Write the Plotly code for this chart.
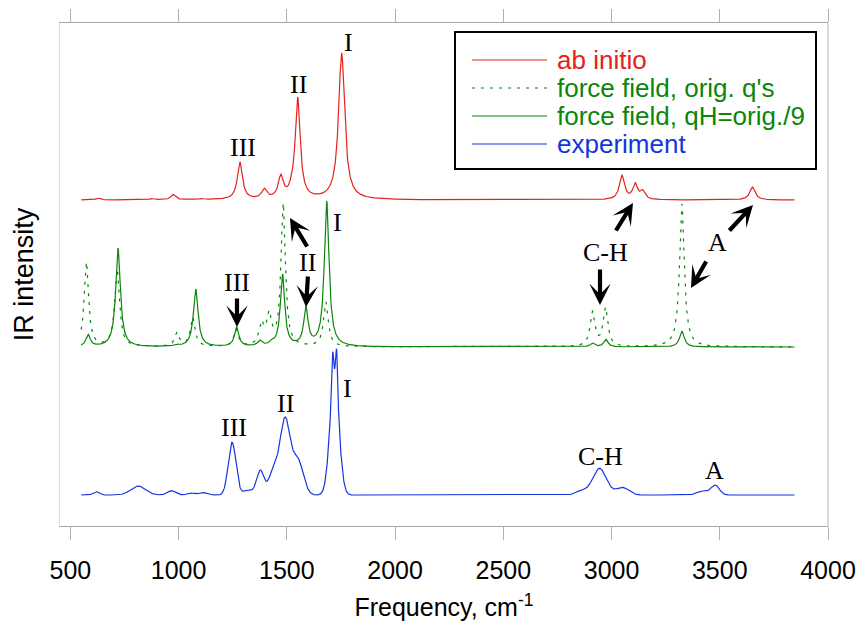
import numpy as np
import plotly.graph_objects as go

# ---------------- data ----------------
# peak lists: frequency (cm-1), apparent peak height (plot units), FWHM (cm-1)
RED_FREQ = [628, 875, 974, 1052, 1106, 1283, 1395, 1472, 1522, 1550, 1753, 3048, 3109, 3143, 3651]
RED_HEIGHT = [2, 1.5, 5.5, 1.5, 1.5, 38, 12, 26, 26, 103, 147, 25, 17.5, 10.5, 13]
RED_WIDTH = [25, 25, 25, 25, 25, 28, 28, 28, 24, 28, 34, 28, 26, 26, 30]

GS_FREQ = [582, 720, 990, 1079, 1268, 1375, 1430, 1480, 1588, 1684, 2912, 2974, 3325]
GS_HEIGHT = [12.7, 99, 3, 58, 20, 7, 8, 73, 41, 146, 4, 7.7, 15.7]
GS_WIDTH = [24, 26, 24, 26, 24, 24, 24, 24, 24, 26, 24, 24, 26]

GD_FREQ = [574, 716, 992, 1065, 1265, 1383, 1418, 1483, 1680, 2912, 2972, 3325, 3395]
GD_HEIGHT = [85, 78, 15, 30, 18, 27, 37, 144, 45, 36, 40, 143, 5]
GD_WIDTH = [24, 26, 24, 26, 24, 26, 26, 24, 26, 26, 26, 26, 30]

BL_FREQ = [620, 813, 967, 1055, 1110, 1247, 1320, 1377, 1437, 1491, 1550, 1711, 1720, 1730,
           2860, 2944, 3050, 3420, 3479]
BL_HEIGHT = [3.3, 9, 4.3, 2, 2.5, 52.7, 5, 25, 28, 78, 38, 142, 126, 145,
             5, 26.7, 7.7, 4, 10]
BL_WIDTH = [35, 80, 45, 40, 40, 42, 50, 40, 50, 55, 60, 12, 50, 12,
            60, 75, 70, 60, 45]

# vertical offsets of the stacked spectra (plot units)
OFFSETS = {"red": 326, "green": 179, "blue": 31}
FREQ_MIN, FREQ_MAX = 550, 3845

X_TICKS = [500, 1000, 1500, 2000, 2500, 3000, 3500, 4000]
LEGEND_NAMES = ["ab initio", "force field, orig. q's", "force field, qH=orig./9", "experiment"]

# ---------------- line-shape broadening of the peak lists ----------------
x = np.arange(FREQ_MIN, FREQ_MAX + 1, 1.0)


def lorentz(xx, c, w):
    return 1.0 / (1.0 + ((xx - c) / (w / 2.0)) ** 2)


def gauss(xx, c, w):
    s = w / 2.3548
    return np.exp(-0.5 * ((xx - c) / s) ** 2)


def spectrum(freq, height, width, shape):
    freq = np.asarray(freq, float)
    height = np.asarray(height, float)
    width = np.asarray(width, float)
    M = np.array([[shape(fi, fj, wj) for fj, wj in zip(freq, width)] for fi in freq])
    amp = np.clip(np.linalg.solve(M, height), 0, None)
    y = np.zeros_like(x)
    for a, c, w in zip(amp, freq, width):
        y += a * shape(x, c, w)
    return y


y_red = OFFSETS["red"] + spectrum(RED_FREQ, RED_HEIGHT, RED_WIDTH, lorentz)
y_gd = OFFSETS["green"] + spectrum(GD_FREQ, GD_HEIGHT, GD_WIDTH, lorentz)
y_gs = OFFSETS["green"] + spectrum(GS_FREQ, GS_HEIGHT, GS_WIDTH, lorentz)
y_bl = OFFSETS["blue"] + spectrum(BL_FREQ, BL_HEIGHT, BL_WIDTH, gauss)

RED = "#e3221b"
GREEN = "#0a860a"
BLUE = "#1434e0"
COLORS = [RED, GREEN, GREEN, BLUE]
DASHES = ["solid", "3px,6px", "solid", "solid"]

fig = go.Figure()
for yy, name, col, dash in zip([y_red, y_gd, y_gs, y_bl], LEGEND_NAMES, COLORS, DASHES):
    fig.add_trace(go.Scatter(x=x, y=yy, mode="lines", name=name, showlegend=False,
                             line=dict(color=col, width=1.2, dash=dash)))

# ---------------- layout geometry ----------------
W, H = 859, 622
L, R, T, B = 60, 31, 23, 96
PW, PH = W - L - R, H - T - B


def px(p):
    return (p - L) / PW


def py(p):
    return (H - B - p) / PH


SANS = "Liberation Sans, Arial, sans-serif"
SERIF = "Liberation Serif, Times New Roman, serif"

annotations = []
# peak labels
labels = [("III", 243, 148), ("II", 298, 84), ("I", 348, 43),
          ("III", 237, 283), ("II", 307, 262), ("I", 337, 223),
          ("C-H", 605, 252), ("A", 717, 242),
          ("III", 234, 427), ("II", 285, 403), ("I", 347, 388),
          ("C-H", 600, 456), ("A", 714, 470)]
for t, xx, yy in labels:
    annotations.append(dict(text=t, x=px(xx), y=py(yy), xref="paper", yref="paper",
                            showarrow=False, xanchor="center", yanchor="middle",
                            font=dict(family=SERIF, size=26, color="black")))

# arrows: (tail x, tail y, tip x, tip y) in pixels
arrows = [(237, 297, 237, 327), (308, 275, 306, 307), (308, 248, 290, 218),
          (600, 268, 600, 305), (615, 232, 633, 203),
          (728, 232, 753, 205), (707, 260, 691, 288)]
for tx, ty, hx, hy in arrows:
    annotations.append(dict(text="", x=px(hx), y=py(hy), xref="paper", yref="paper",
                            showarrow=True, ax=tx - hx, ay=ty - hy,
                            arrowhead=3, arrowsize=0.85, arrowwidth=4.2,
                            arrowcolor="black", standoff=0, startstandoff=0))

# legend (drawn as a boxed key)
shapes = [dict(type="rect", xref="paper", yref="paper", x0=px(455), x1=px(816),
               y0=py(169), y1=py(32), line=dict(color="black", width=2),
               fillcolor="white", layer="above"),
          dict(type="line", xref="paper", yref="paper", x0=1, x1=1, y0=0, y1=1,
               line=dict(color="#b4b4b4", width=1))]
rows = [60, 88, 116, 144]
for name, col, dash, ry in zip(LEGEND_NAMES, COLORS, DASHES, rows):
    shapes.append(dict(type="line", xref="paper", yref="paper", x0=px(472), x1=px(547),
                       y0=py(ry), y1=py(ry), line=dict(color=col, width=1.2, dash=dash),
                       layer="above"))
    annotations.append(dict(text=name, x=px(555), y=py(ry), xref="paper", yref="paper",
                            showarrow=False, xanchor="left", yanchor="middle",
                            font=dict(family=SANS, size=26, color=col)))

fig.update_layout(
    width=W, height=H,
    margin=dict(l=L, r=R, t=T, b=B, pad=0, autoexpand=False),
    paper_bgcolor="white", plot_bgcolor="white",
    font=dict(family=SANS, color="black"),
    xaxis=dict(range=[452, 4000], tickvals=X_TICKS, ticktext=[str(v) for v in X_TICKS],
               ticks="outside", ticklen=13, tickwidth=1, tickcolor="#b0b0b0",
               ticklabelstandoff=9, automargin=False,
               showline=True, linecolor="#a8a8a8", linewidth=1, mirror="ticks",
               showgrid=False, zeroline=False,
               tickfont=dict(family=SANS, size=25, color="black"),
               title=dict(text="Frequency, cm<sup>-1</sup>", standoff=15,
                          font=dict(family=SANS, size=25, color="black"))),
    yaxis=dict(range=[0, 503], showticklabels=False, ticks="", showgrid=False,
               zeroline=False, showline=True, linecolor="#dedede", linewidth=1,
               automargin=False,
               title=dict(text="IR intensity", standoff=17,
                          font=dict(family=SANS, size=27, color="black"))),
    annotations=annotations,
    shapes=shapes,
)

fig.write_html("out.html")
